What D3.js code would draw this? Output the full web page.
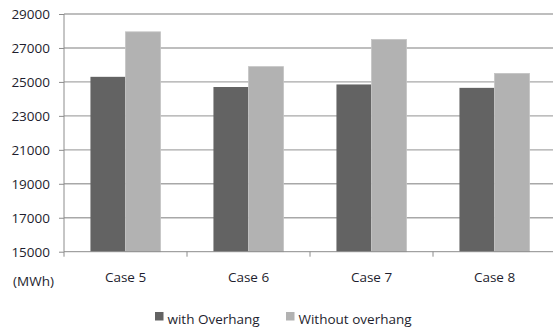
<!DOCTYPE html>
<html>
<head>
<meta charset="utf-8">
<script src="https://cdn.jsdelivr.net/npm/d3@7"></script>
<style>
  html, body { margin: 0; padding: 0; background: #fff; }
  svg { display: block; font-family: "Open Sans", "Liberation Sans", sans-serif; }
</style>
</head>
<body>
<svg id="chart" width="553" height="329"></svg>
<script>
// Annual energy per case, with and without the overhang (MWh)
const categories = ["Case 5", "Case 6", "Case 7", "Case 8"];
const seriesNames = ["with Overhang", "Without overhang"];
const withOverhang = [25300, 24700, 24850, 24650];
const withoutOverhang = [27950, 25900, 27500, 25500];
const yTicks = [15000, 17000, 19000, 21000, 23000, 25000, 27000, 29000];
const unitLabel = "(MWh)";

const colors = ["#636363", "#b2b2b2"];
const textColor = "#1e1e2e";

const svg = d3.select("#chart");
const plotLeft = 64, plotRight = 556, plotTop = 14, plotBottom = 251.7;

const x = d3.scaleBand().domain(categories).range([plotLeft, plotRight])
  .paddingInner(0.43).paddingOuter(0.215);
const xs = d3.scaleBand().domain(seriesNames).range([0, x.bandwidth()]);
const y = d3.scaleLinear().domain([15000, 29000]).range([plotBottom, plotTop]);

// horizontal gridlines
svg.append("g").selectAll("line").data(yTicks.slice(1)).join("line")
  .attr("x1", plotLeft).attr("x2", plotRight)
  .attr("y1", d => y(d)).attr("y2", d => y(d))
  .attr("stroke", "#a8a8a8").attr("stroke-width", 1.4);

// bars
const rows = categories.map((c, i) => ({ c, vals: [withOverhang[i], withoutOverhang[i]] }));
const groups = svg.append("g").selectAll("g").data(rows).join("g")
  .attr("transform", d => `translate(${x(d.c)},0)`);
groups.selectAll("rect").data(d => d.vals.map((v, k) => ({ v, k }))).join("rect")
  .attr("x", d => xs(seriesNames[d.k]))
  .attr("width", xs.bandwidth())
  .attr("y", d => y(d.v))
  .attr("height", d => y(15000) - y(d.v))
  .attr("fill", d => colors[d.k])
  .attr("stroke", d => d.k === 1 ? "#c4c4c4" : "none")
  .attr("stroke-width", 0.8);

// y axis
const yAxis = svg.append("g").attr("transform", `translate(${plotLeft},0)`)
  .call(d3.axisLeft(y).tickValues(yTicks).tickFormat(d3.format("d")).tickSize(5).tickPadding(9));
yAxis.select(".domain").attr("stroke", "#8c8c8c").attr("d", `M0,${plotTop}V${plotBottom}`);
yAxis.selectAll(".tick line").attr("stroke", "#8c8c8c");
yAxis.selectAll(".tick text").attr("fill", textColor)
  .style("font-size", "13.5px").style("font-family", "'Open Sans', sans-serif");

// x axis with ticks on the category boundaries
svg.append("line").attr("x1", plotLeft).attr("x2", plotRight).attr("y1", plotBottom).attr("y2", plotBottom)
  .attr("stroke", "#8c8c8c");
const boundaries = categories.map(c => x(c) - x.step() * x.paddingInner() / 2);
svg.append("g").selectAll("line").data(boundaries).join("line")
  .attr("x1", d => d).attr("x2", d => d).attr("y1", plotBottom).attr("y2", plotBottom + 5)
  .attr("stroke", "#8c8c8c");
svg.append("g").selectAll("text").data(categories).join("text")
  .attr("x", d => x(d) + x.bandwidth() / 2).attr("y", 281.5)
  .attr("text-anchor", "middle").attr("fill", textColor)
  .style("font-size", "13.5px").text(d => d);

// unit label
svg.append("text").attr("x", 33.5).attr("y", 286).attr("text-anchor", "middle")
  .attr("fill", textColor).style("font-size", "13.5px").text(unitLabel);

// legend
const legendX = [155, 286];
const legend = svg.append("g").selectAll("g").data(seriesNames).join("g")
  .attr("transform", (d, i) => `translate(${legendX[i]},312)`);
legend.append("rect").attr("width", 8.5).attr("height", 8.5).attr("fill", (d, i) => colors[i]);
legend.append("text").attr("x", 12.5).attr("y", 11.5).attr("fill", textColor)
  .style("font-size", "13.5px").text(d => d);
</script>
</body>
</html>
